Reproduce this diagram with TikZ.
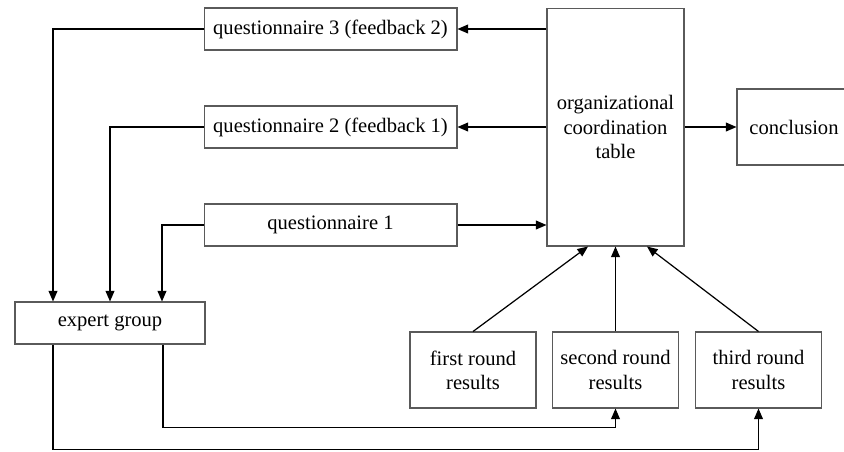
\documentclass[tikz,border=0pt]{standalone}
\usepackage{fontspec}
\setmainfont{Liberation Serif}
\usepackage{tikz}
\usetikzlibrary{arrows.meta}
\definecolor{boxline}{RGB}{90, 90, 90}

\begin{document}
\begin{tikzpicture}[x=0.02cm, y=-0.02cm,
    font=\fontsize{11.7}{13.8}\selectfont,
    box/.style={draw=boxline, line width=0.6pt, inner sep=0pt, align=center},
    wide/.style={box, minimum width=5.06cm, minimum height=0.84cm},
    tall/.style={box, minimum width=2.52cm, minimum height=1.52cm},
    arr/.style={line width=0.7pt, -{Triangle[length=6pt, width=5pt]}}]

    %% canvas
    \useasboundingbox (0, 0) rectangle (844, 451);

    %% --- questionnaires ---
    \node[wide] (q3) at (330.5, 29)  {questionnaire 3 (feedback 2)};
    \node[wide] (q2) at (330.5, 127) {questionnaire 2 (feedback 1)};
    \node[wide] (q1) at (330.5, 225) {questionnaire 1};

    %% --- table and conclusion ---
    \node[box, minimum width=2.74cm, minimum height=4.76cm] (org) at (615.5, 127)
        {organizational\\coordination\\table};
    \node[box, minimum width=2.28cm, minimum height=1.52cm] (concl) at (794, 127) {conclusion};

    %% --- experts ---
    \node[box, minimum width=3.8cm, minimum height=0.84cm] (eg) at (110, 323) {expert group};

    %% --- round results ---
    \node[tall] (r1) at (473, 370)   {first round\\results};
    \node[tall] (r2) at (615.5, 370) {second round\\results};
    \node[tall] (r3) at (758.5, 370) {third round\\results};

    %% table <-> questionnaires
    \draw[arr] (org.west |- q3.east) -- (q3.east);
    \draw[arr] (org.west |- q2.east) -- (q2.east);
    \draw[arr] (q1.east) -- (org.west |- q1.east);
    \draw[arr] (org) -- (concl);

    %% questionnaires -> expert group
    \draw[arr] (q3.west) -| ([xshift=-1.14cm]eg.north);
    \draw[arr] (q2.west) -| (eg.north);
    \draw[arr] (q1.west) -| ([xshift=1.04cm]eg.north);

    %% results -> table
    \draw[arr] (r1.north) -- ([xshift=-0.55cm]org.south);
    \draw[arr] (r2.north) -- (org.south);
    \draw[arr] (r3.north) -- ([xshift=0.63cm]org.south);

    %% expert group -> results
    \draw[arr] ([xshift=1.06cm]eg.south) -- ++(0, 83) -| (r2.south);
    \draw[arr] ([xshift=-1.14cm]eg.south) -- ++(0, 105) -| (r3.south);

\end{tikzpicture}
\end{document}
